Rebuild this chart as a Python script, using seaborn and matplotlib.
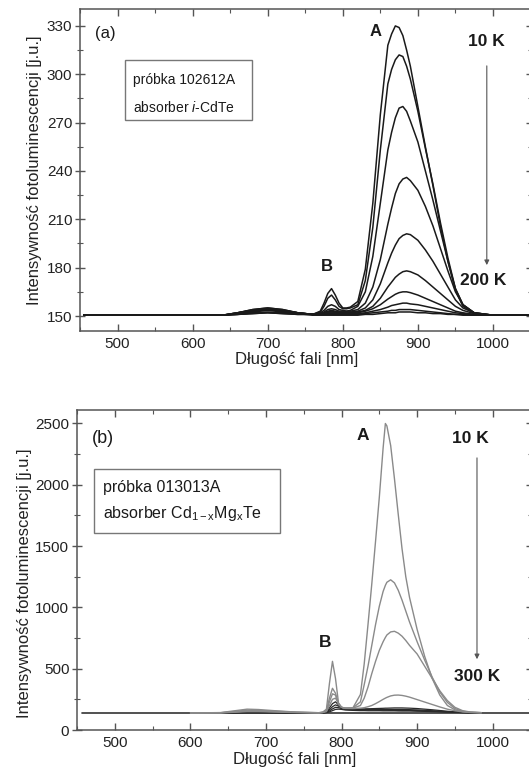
import numpy as np
import pandas as pd
import matplotlib
matplotlib.use("Agg")
import matplotlib.pyplot as plt
from matplotlib.patches import Rectangle
import seaborn as sns

# --- panel (a): sample 102612A, i-CdTe, 10 K ... 200 K
wl_a = [455, 520, 600, 640, 660, 680, 700, 720, 740, 760, 770, 775, 780, 785, 790, 795, 800, 805, 810,
        820, 830, 840, 850, 860, 865, 870, 875, 880, 885, 890, 900, 910, 920, 930, 940, 950, 960, 975, 1000, 1050]
a1 = [150.5, 150.5, 150.5, 150.5, 151, 151.5, 152, 151.5, 151, 151, 153, 158, 164, 167, 163, 158, 155, 155, 155.5,
      159, 179, 220, 275, 318, 325, 330, 329, 324, 315, 305, 280, 255, 231, 206, 184, 166, 156, 151.5, 150.5, 150.5]
a2 = [150.5, 150.5, 150.5, 150.5, 151, 151.5, 152, 151.5, 151, 151, 152.5, 156, 161, 163, 160, 156, 154.5, 154.5, 155,
      157, 172, 205, 253, 294, 303, 309, 312, 311, 305, 297, 277, 254, 232, 208, 186, 167, 157, 152, 150.5, 150.5]
a3 = [150.5, 150.5, 150.5, 150.5, 151, 152, 152.5, 152, 151.5, 151, 152, 153.5, 156, 157, 156, 154, 153.5, 153, 153.5,
      156, 165, 187, 220, 253, 264, 273, 279, 280, 277, 271, 258, 240, 222, 203, 184, 167, 157, 152, 150.5, 150.5]
a4 = [150.5, 150.5, 150.5, 150.5, 151.5, 152.5, 153.5, 152.5, 151.5, 151, 151.5, 152.5, 154, 154.5, 154, 153, 153, 153, 153,
      154, 158, 168, 185, 207, 217, 226, 232, 235, 236, 234, 228, 218, 206, 192, 178, 165, 157, 152, 150.5, 150.5]
a5 = [150.5, 150.5, 150.5, 150.5, 151.5, 153, 154, 153, 152, 151, 151.5, 152, 153, 153.5, 153, 152.5, 152.5, 152.5, 152.5,
      153, 155, 160, 170, 183, 189, 194, 198, 200, 201, 200.5, 197, 191, 184, 176, 168, 160, 155, 152, 150.5, 150.5]
a6 = [150.5, 150.5, 150.5, 150.5, 152, 153.5, 154.5, 153.5, 152, 151, 151.5, 152, 152.5, 153, 152.5, 152, 152, 152, 152,
      152.5, 153.5, 156, 161, 168, 171, 174, 176, 177.5, 178, 177.5, 175.5, 172, 168, 164, 160, 156, 153.5, 151.5, 150.5, 150.5]
a7 = [150.5, 150.5, 150.5, 150.5, 152, 154, 155, 154, 152, 151, 151, 151.5, 152, 152, 152, 151.5, 151.5, 151.5, 151.5,
      152, 153, 154.5, 157, 160.5, 162, 163.5, 164.5, 165, 165, 164.5, 163, 161, 159, 157, 155, 153, 152, 151, 150.5, 150.5]
a8 = [150.5, 150.5, 150.5, 150.5, 152, 154, 155, 154, 152, 151, 151, 151, 151.5, 151.5, 151.5, 151.5, 151.5, 151.5, 151.5,
      151.5, 152, 153, 154, 155.5, 156.5, 157, 157.5, 158, 158, 157.5, 157, 156, 155, 154, 153, 152, 151.5, 151, 150.5, 150.5]
a9 = [150.5, 150.5, 150.5, 150.5, 152, 153.5, 154.5, 153.5, 152, 151, 151, 151, 151, 151, 151, 151, 151, 151, 151,
      151, 151.5, 152, 152.5, 153, 153.5, 153.5, 154, 154, 154, 154, 153.5, 153, 152.5, 152, 151.5, 151, 151, 150.5, 150.5, 150.5]
a10 = [150.5, 150.5, 150.5, 150.5, 151.5, 153, 154, 153, 151.5, 150.5, 150.5, 150.5, 150.5, 150.5, 150.5, 150.5, 150.5, 150.5, 150.5,
       150.5, 151, 151, 151.5, 152, 152, 152, 152.5, 152.5, 152.5, 152.5, 152, 152, 151.5, 151.5, 151, 151, 150.5, 150.5, 150.5, 150.5]
curves_a = [a1, a2, a3, a4, a5, a6, a7, a8, a9, a10]

# --- panel (b): sample 013013A, Cd1-xMgxTe, 10 K ... 300 K
wl_b = [600, 640, 660, 675, 690, 710, 740, 770, 775, 780, 784, 788, 792, 796, 800, 805, 815, 825, 830, 835, 840,
        845, 850, 855, 858, 860, 865, 870, 875, 880, 885, 890, 900, 910, 920, 930, 940, 950, 960, 970, 985]
b1 = [139, 142, 158, 170, 167, 158, 146, 141, 145, 170, 380, 560, 420, 220, 185, 178, 180, 290, 540, 860, 1190,
      1540, 1900, 2300, 2500, 2480, 2320, 2050, 1760, 1480, 1250, 1080, 820, 600, 420, 285, 200, 165, 150, 144, 141]
b2 = [139, 141, 152, 162, 160, 154, 145, 141, 145, 160, 260, 340, 300, 210, 185, 178, 180, 230, 370, 520, 690,
      860, 1010, 1130, 1180, 1205, 1225, 1200, 1140, 1060, 970, 880, 720, 570, 430, 310, 225, 175, 153, 145, 141]
b3 = [139, 140, 148, 156, 155, 150, 144, 140, 143, 155, 230, 295, 285, 215, 185, 178, 178, 200, 260, 350, 460,
      560, 650, 720, 755, 775, 800, 805, 790, 765, 730, 690, 620, 520, 420, 320, 240, 185, 158, 147, 142]
b4 = [139, 140, 145, 150, 150, 147, 142, 140, 142, 150, 200, 250, 260, 215, 185, 176, 175, 178, 182, 190, 200,
      215, 232, 250, 260, 266, 278, 284, 285, 282, 276, 268, 248, 228, 208, 188, 170, 157, 148, 143, 140]
b5 = [139, 140, 143, 146, 146, 144, 141, 140, 141, 147, 180, 215, 230, 205, 182, 175, 173, 172, 172, 173, 174,
      175, 176, 177, 178, 178, 179, 180, 180, 180, 179, 178, 175, 170, 165, 159, 153, 148, 145, 142, 140]
b6 = [139, 139, 141, 143, 143, 142, 140, 140, 140, 145, 165, 190, 205, 195, 180, 172, 170, 168, 168, 168, 168,
      168, 168, 168, 168, 168, 168, 168, 168, 168, 167, 166, 164, 161, 157, 153, 149, 146, 143, 141, 140]
b7 = [139, 139, 140, 141, 141, 140, 140, 139, 140, 143, 155, 172, 185, 182, 175, 168, 165, 163, 163, 162, 162,
      162, 161, 161, 161, 161, 160, 160, 160, 159, 159, 159, 158, 156, 154, 151, 148, 146, 143, 141, 140]
b8 = [139, 139, 139, 140, 140, 140, 139, 139, 140, 142, 148, 158, 168, 170, 168, 163, 160, 158, 158, 157, 157,
      157, 157, 156, 156, 156, 156, 156, 155, 155, 155, 155, 153, 152, 150, 148, 146, 144, 142, 141, 140]
curves_b = [b1, b2, b3, b4, b5, b6, b7, b8]
base_wl_b = [456, 1050]
base_b = [139, 139]


def long_form(wl, curves):
    rows = []
    for i, c in enumerate(curves):
        rows.append(pd.DataFrame({"wl": wl, "I": c, "curve": i}))
    return pd.concat(rows, ignore_index=True)


df_a = long_form(wl_a, curves_a)
df_b_hi = long_form(wl_b, curves_b[:4])
df_b_lo = long_form(wl_b, curves_b[4:])
df_base = pd.DataFrame({"wl": base_wl_b, "I": base_b})

sns.set_theme(style="ticks")
plt.rcParams["font.family"] = ["Liberation Sans", "DejaVu Sans"]
plt.rcParams["mathtext.fontset"] = "custom"
plt.rcParams["mathtext.rm"] = "Liberation Sans"
plt.rcParams["mathtext.it"] = "Liberation Sans:italic"
plt.rcParams["mathtext.bf"] = "Liberation Sans:bold"

W, H = 529, 769
fig = plt.figure(figsize=(W / 100, H / 100), dpi=100)
ax_a = fig.add_axes([80 / W, (H - 331) / H, 450.5 / W, 322 / H])
ax_b = fig.add_axes([77 / W, (H - 730) / H, 453.5 / W, 320 / H])

sns.lineplot(data=df_a, x="wl", y="I", units="curve", estimator=None, color="#1a1a1a",
             lw=1.1, ax=ax_a, legend=False)
sns.lineplot(data=df_base, x="wl", y="I", color="#333333", lw=1.2, ax=ax_b, legend=False)
sns.lineplot(data=df_b_lo, x="wl", y="I", units="curve", estimator=None, color="#2a2a2a",
             lw=0.9, ax=ax_b, legend=False)
sns.lineplot(data=df_b_hi, x="wl", y="I", units="curve", estimator=None, color="#8a8a8a",
             lw=1.0, ax=ax_b, legend=False)

ylabel = "Intensywność fotoluminescencji [j.u.]"
xlabel = "Długość fali [nm]"
for ax in (ax_a, ax_b):
    ax.set_xlim(450, 1050)
    ax.set_xticks([500, 600, 700, 800, 900, 1000])
    ax.set_xticks(np.arange(450, 1051, 50), minor=True)
    ax.set_xlabel(xlabel, fontsize=12, color="#222222")
    ax.set_ylabel(ylabel, fontsize=12, color="#222222")
    for s in ax.spines.values():
        s.set_color("#555555")
        s.set_linewidth(1.1)
    ax.tick_params(axis="x", which="both", direction="in", top=True, bottom=True,
                   colors="#555555", labelcolor="#222222", labelsize=11, pad=4)
    ax.tick_params(axis="x", which="major", length=5, width=1)
    ax.tick_params(axis="x", which="minor", length=3, width=0.8)
    ax.tick_params(axis="y", which="both", direction="inout", left=True, right=True,
                   colors="#555555", labelcolor="#222222", labelsize=11, pad=2)
    ax.tick_params(axis="y", which="major", length=7, width=1)
    ax.tick_params(axis="y", which="minor", length=4, width=0.8)

ax_a.set_ylim(140.7, 340.5)
ax_a.set_yticks(np.arange(150, 331, 30))
ax_a.set_yticks(np.arange(150, 340, 15), minor=True)
ax_a.yaxis.set_label_coords(-0.084, 0.5)
ax_a.xaxis.set_label_coords(0.48, -0.066)

ax_b.set_ylim(0, 2610)
ax_b.set_yticks(np.arange(0, 2501, 500))
ax_b.set_yticks(np.arange(0, 2610, 250), minor=True)
ax_b.yaxis.set_label_coords(-0.099, 0.46)
ax_b.xaxis.set_label_coords(0.48, -0.068)

tc = "#1a1a1a"
# panel (a) annotations
ax_a.text(0.033, 0.925, "(a)", transform=ax_a.transAxes, fontsize=12, va="center", color=tc)
ax_a.add_patch(Rectangle((0.100, 0.655), 0.282, 0.187, transform=ax_a.transAxes,
                         fill=False, edgecolor="#777777", lw=1))
ax_a.text(0.118, 0.780, "próbka 102612A", transform=ax_a.transAxes, fontsize=10, va="center", color=tc)
ax_a.text(0.118, 0.693, r"absorber $\mathit{i}$-CdTe", transform=ax_a.transAxes, fontsize=10,
          va="center", color=tc)
ax_a.text(0.657, 0.929, "A", transform=ax_a.transAxes, fontsize=12, fontweight="bold",
          ha="center", va="center", color=tc)
ax_a.text(0.548, 0.199, "B", transform=ax_a.transAxes, fontsize=12, fontweight="bold",
          ha="center", va="center", color=tc)
ax_a.text(0.903, 0.898, "10 K", transform=ax_a.transAxes, fontsize=12.5, fontweight="bold",
          ha="center", va="center", color=tc)
ax_a.text(0.895, 0.158, "200 K", transform=ax_a.transAxes, fontsize=12.5, fontweight="bold",
          ha="center", va="center", color=tc)
ax_a.annotate("", xy=(0.903, 0.196), xytext=(0.903, 0.832), xycoords="axes fraction",
              arrowprops=dict(arrowstyle="-|>", color="#555555", lw=0.8, mutation_scale=7))

# panel (b) annotations
ax_b.text(0.033, 0.9125, "(b)", transform=ax_b.transAxes, fontsize=13, va="center", color=tc)
ax_b.add_patch(Rectangle((0.0375, 0.616), 0.410, 0.200, transform=ax_b.transAxes,
                         fill=False, edgecolor="#777777", lw=1))
ax_b.text(0.057, 0.759, "próbka 013013A", transform=ax_b.transAxes, fontsize=11.5, va="center", color=tc)
ax_b.text(0.057, 0.678, r"absorber Cd$_{\mathregular{1-x}}$Mg$_{\mathregular{x}}$Te",
          transform=ax_b.transAxes, fontsize=11.5, va="center", color=tc)
ax_b.text(0.631, 0.919, "A", transform=ax_b.transAxes, fontsize=12.5, fontweight="bold",
          ha="center", va="center", color=tc)
ax_b.text(0.547, 0.272, "B", transform=ax_b.transAxes, fontsize=12.5, fontweight="bold",
          ha="center", va="center", color=tc)
ax_b.text(0.867, 0.9125, "10 K", transform=ax_b.transAxes, fontsize=12.5, fontweight="bold",
          ha="center", va="center", color=tc)
ax_b.text(0.882, 0.166, "300 K", transform=ax_b.transAxes, fontsize=12.5, fontweight="bold",
          ha="center", va="center", color=tc)
ax_b.annotate("", xy=(0.882, 0.2125), xytext=(0.882, 0.859), xycoords="axes fraction",
              arrowprops=dict(arrowstyle="-|>", color="#555555", lw=0.8, mutation_scale=7))

fig.savefig("out.png", dpi=100)
